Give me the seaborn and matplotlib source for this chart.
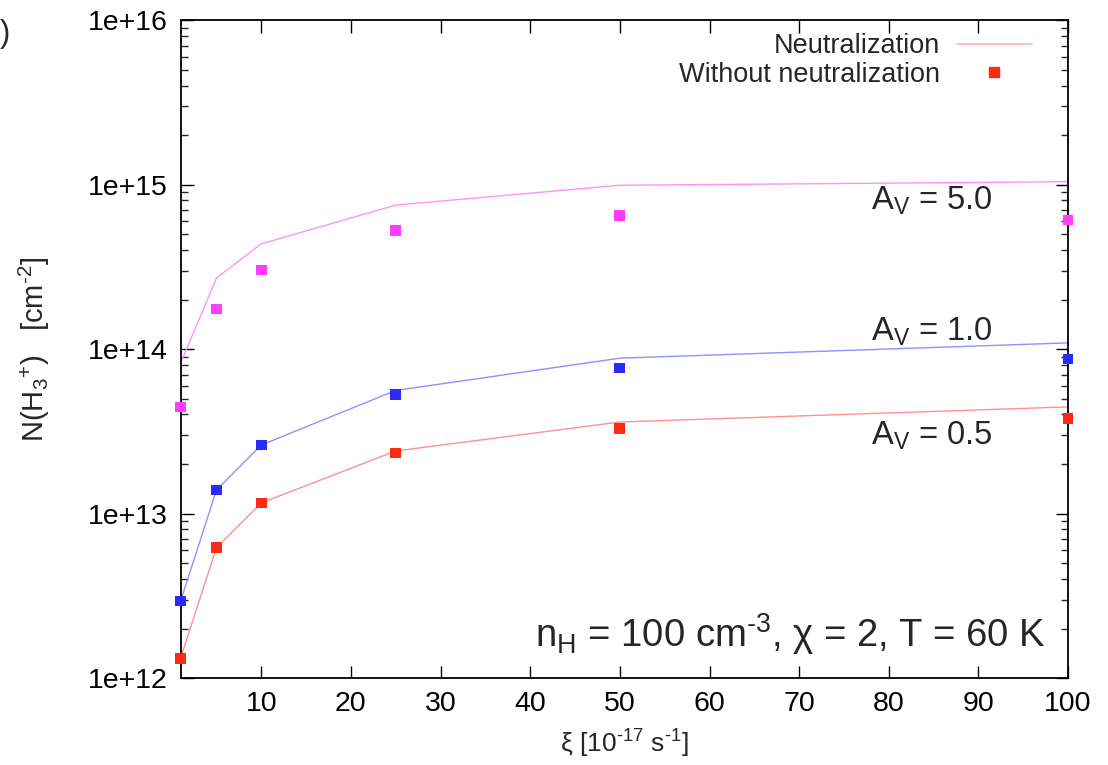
import numpy as np
import pandas as pd
import matplotlib
matplotlib.use("Agg")
import matplotlib.pyplot as plt
from matplotlib.ticker import FixedLocator, LogLocator, FuncFormatter, NullFormatter
import seaborn as sns

# Cosmic-ray ionisation rate (units of 1e-17 s^-1)
zeta = [1, 5, 10, 25, 50, 100]

# N(H3+) with neutralization (lines)
neut_av05 = [1.32e12, 6.2e12, 1.16e13, 2.4e13, 3.6e13, 4.45e13]
neut_av10 = [2.94e12, 1.39e13, 2.61e13, 5.6e13, 8.8e13, 1.09e14]
neut_av50 = [8.2e13, 2.7e14, 4.36e14, 7.5e14, 9.9e14, 1.04e15]

# N(H3+) without neutralization (square markers)
noneut_av05 = [1.32e12, 6.2e12, 1.16e13, 2.33e13, 3.3e13, 3.8e13]
noneut_av10 = [2.94e12, 1.39e13, 2.61e13, 5.3e13, 7.66e13, 8.7e13]
noneut_av50 = [4.44e13, 1.75e14, 3.02e14, 5.28e14, 6.5e14, 6.08e14]

av_labels = ["0.5", "1.0", "5.0"]
y_ticks = [1e12, 1e13, 1e14, 1e15, 1e16]
x_ticks = [10, 20, 30, 40, 50, 60, 70, 80, 90, 100]

line_colors = {"0.5": "#ff9090", "1.0": "#9090ff", "5.0": "#ff90ff"}
mark_colors = {"0.5": "#ff2a10", "1.0": "#2a2aff", "5.0": "#ff3cff"}

neut = pd.DataFrame({
    "zeta": zeta * 3,
    "N": neut_av05 + neut_av10 + neut_av50,
    "Av": sum([[a] * len(zeta) for a in av_labels], []),
})
noneut = pd.DataFrame({
    "zeta": zeta * 3,
    "N": noneut_av05 + noneut_av10 + noneut_av50,
    "Av": sum([[a] * len(zeta) for a in av_labels], []),
})

sns.set_theme(style="ticks")
plt.rcParams["font.family"] = ["Liberation Sans", "DejaVu Sans"]
plt.rcParams["mathtext.fontset"] = "custom"
plt.rcParams["mathtext.rm"] = "Liberation Sans"
plt.rcParams["mathtext.it"] = "Liberation Sans"

fig = plt.figure(figsize=(11.08, 7.65), dpi=100)
ax = fig.add_axes([0.163, 0.1137, 0.801, 0.8601])

sns.lineplot(data=neut, x="zeta", y="N", hue="Av", palette=line_colors,
             linewidth=1.0, ax=ax, legend=False)
sns.scatterplot(data=noneut, x="zeta", y="N", hue="Av", palette=mark_colors,
                marker="s", s=60, linewidth=0, ax=ax, legend=False, zorder=3,
                clip_on=False)

ax.set_yscale("log")
ax.set_xlim(1, 100)
ax.set_ylim(1e12, 1e16)

ax.xaxis.set_major_locator(FixedLocator(x_ticks))
ax.yaxis.set_major_locator(FixedLocator(y_ticks))
ax.yaxis.set_major_formatter(FuncFormatter(lambda v, p: "1e+%d" % round(np.log10(v))))
ax.yaxis.set_minor_locator(LogLocator(base=10, subs=np.arange(2, 10), numticks=20))
ax.yaxis.set_minor_formatter(NullFormatter())

ax.tick_params(axis="both", which="major", direction="in", length=9, width=1.0,
               labelsize=20.5, top=True, right=True, pad=9, colors="black")
ax.tick_params(axis="y", which="minor", direction="in", length=5, width=1.0,
               left=True, right=True)
ax.tick_params(axis="x", which="minor", bottom=False, top=False)
for sp in ax.spines.values():
    sp.set_linewidth(1.3)
    sp.set_color("black")

HY = "\u2010"  # short hyphen for exponents
ax.set_xlabel(r"$\xi$ [10$^{%s17}$ s$^{%s1}$]" % (HY, HY), fontsize=19, labelpad=8)
ax.set_ylabel(r"N(H$_3$$^{+}$)   [cm$^{%s2}$]" % HY, fontsize=21, labelpad=26)

# Extinction labels for each curve family
ax.text(84.8, 8.0e14, r"A$_V$ = 5.0", fontsize=23.5, ha="center", va="center")
ax.text(84.8, 1.27e14, r"A$_V$ = 1.0", fontsize=23.5, ha="center", va="center")
ax.text(84.8, 2.96e13, r"A$_V$ = 0.5", fontsize=23.5, ha="center", va="center")

ax.text(97.5, 1.85e12, r"n$_{\rm H}$ = 100 cm$^{%s3}$, $\chi$ = 2, T = 60 K" % HY,
        fontsize=27.5, ha="right", va="center")

# Legend: text first, sample to the right
handles = [
    plt.Line2D([], [], color="#ffb0b0", linewidth=1.2),
    plt.Line2D([], [], color="#ff2a10", marker="s", linestyle="none", markersize=7),
]
ax.legend(handles, ["Neutralization", "Without neutralization"], loc="upper right",
          markerfirst=False, frameon=False, fontsize=19.5, handlelength=2.8,
          borderaxespad=0.2, labelspacing=0.1, handletextpad=0.6,
          bbox_to_anchor=(0.978, 1.005))

fig.text(0.0, 0.955, ")", fontsize=22, ha="left", va="center")

fig.savefig("out.png", dpi=100)
